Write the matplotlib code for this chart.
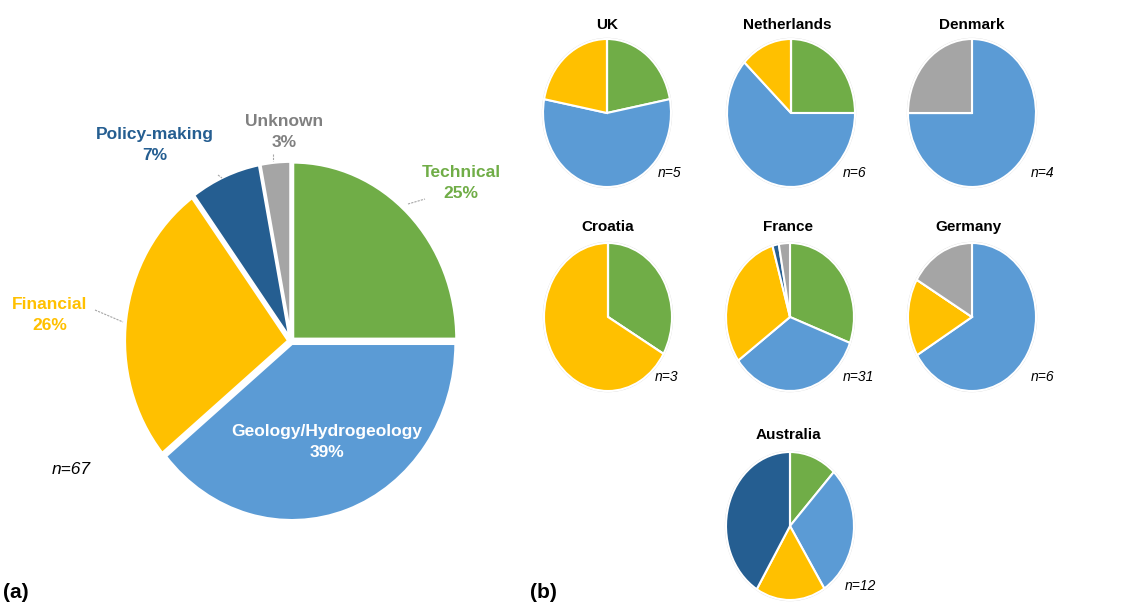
import matplotlib
matplotlib.use("Agg")
import matplotlib.pyplot as plt
from matplotlib.patches import Circle

plt.rcParams['font.family'] = ['Liberation Sans', 'DejaVu Sans']

W, H = 1133, 605

# ---- data ----
categories = ["Technical", "Geology/Hydrogeology", "Financial", "Policy-making", "Unknown"]
colors = ["#70AD47", "#5B9BD5", "#FFC000", "#255E91", "#A5A5A5"]
overall_pct = [25, 39, 26, 7, 3]
overall_n = 67

countries = ["UK", "Netherlands", "Denmark", "Croatia", "France", "Germany", "Australia"]
# shares per category (Technical, Geology, Financial, Policy, Unknown)
uk = [22, 56, 22, 0, 0]
netherlands = [25, 62, 13, 0, 0]
denmark = [0, 75, 0, 0, 25]
croatia = [33.3, 0, 66.7, 0, 0]
france = [30.7, 34.3, 30.6, 1.6, 2.8]
germany = [0, 66.4, 17, 0, 16.6]
australia = [12, 29, 17.7, 41.3, 0]
country_values = [uk, netherlands, denmark, croatia, france, germany, australia]
country_n = [5, 6, 4, 3, 31, 6, 12]

fig = plt.figure(figsize=(W / 100, H / 100), dpi=100)


def pie_axes(cx, cy, rx, ry, m=1.12):
    ax = fig.add_axes([(cx - m * rx) / W, (H - cy - m * ry) / H,
                       2 * m * rx / W, 2 * m * ry / H])
    return ax, m


def finish(ax, m):
    ax.set_aspect("auto")
    ax.set_xlim(-m, m)
    ax.set_ylim(-m, m)
    ax.axis("off")


# ---- main pie ----
ax, m = pie_axes(291, 341, 164, 177)
ax.pie(overall_pct, colors=colors, startangle=90, counterclock=False,
       explode=[0.015] * len(overall_pct),
       wedgeprops=dict(edgecolor="white", linewidth=2.2))
finish(ax, m)

# ---- small pies ----
centers = [(607, 113), (791, 113), (972, 113),
           (608, 317), (790, 317), (972, 317),
           (790, 526)]
for (cx, cy), vals in zip(centers, country_values):
    ax, m = pie_axes(cx, cy, 64, 74)
    ax.add_patch(Circle((0, 0), 1.005, facecolor="none", edgecolor="#D9D9D9", lw=1.2, zorder=0))
    ax.pie(vals, colors=colors, startangle=90, counterclock=False,
           wedgeprops=dict(edgecolor="white", linewidth=1.5))
    finish(ax, m)

# ---- overlay for text and leader lines ----
ov = fig.add_axes([0, 0, 1, 1], zorder=10)
ov.set_xlim(0, W)
ov.set_ylim(H, 0)
ov.axis("off")
ov.patch.set_alpha(0)

lab_kw = dict(ha="center", va="center", fontsize=12.5, fontweight="bold", linespacing=1.55)
ov.text(461, 183, f"{categories[0]}\n{overall_pct[0]}%", color="#70AD47", **lab_kw)
ov.text(327, 442, f"{categories[1]}\n{overall_pct[1]}%", color="white", **lab_kw)
ov.text(50, 315, f"{categories[2]}\n{overall_pct[2]}%", color="#FFC000", **lab_kw)
ov.text(155, 145, f"{categories[3]}\n{overall_pct[3]}%", color="#255E91", **lab_kw)
ov.text(284, 132, f"{categories[4]}\n{overall_pct[4]}%", color="#808080", **lab_kw)

leader = dict(color="#A6A6A6", lw=0.8, ls=(0, (2, 1)))
ov.plot([408, 425], [204, 199], **leader)
ov.plot([95, 123], [310, 322], **leader)
ov.plot([218, 222], [175, 178], **leader)
ov.plot([273, 273], [154, 161], **leader)

ov.text(71, 470, f"n={overall_n}", ha="center", va="center", fontsize=12.5, style="italic")

title_pos = [(607, 25), (787, 25), (972, 25), (608, 227), (788, 227), (968, 227), (788, 435)]
for (tx, ty), name in zip(title_pos, countries):
    ov.text(tx, ty, name, ha="center", va="center", fontsize=11, fontweight="bold")

n_pos = [(670, 173), (855, 173), (1043, 173), (667, 377), (858, 377), (1043, 377), (860, 586)]
for (nx, ny), n in zip(n_pos, country_n):
    ov.text(nx, ny, f"n={n}", ha="center", va="center", fontsize=10, style="italic")

ov.text(3, 593, "(a)", ha="left", va="center", fontsize=15, fontweight="bold")
ov.text(530, 593, "(b)", ha="left", va="center", fontsize=15, fontweight="bold")

fig.savefig("out.png", dpi=100)
